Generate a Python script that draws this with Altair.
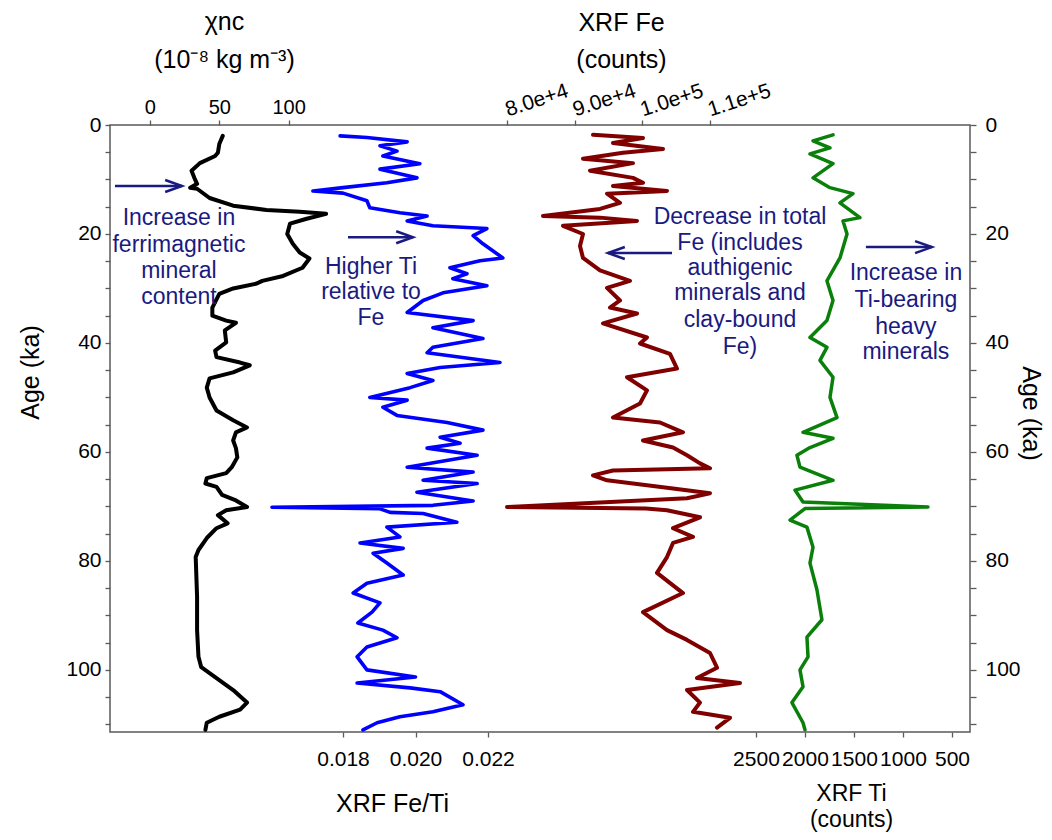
import altair as alt
import pandas as pd

FONT = "Liberation Sans"
NAVY = "#1a1a80"

# ---------------- data ----------------
chi_age = [2.0, 3.5, 5.1, 5.7, 7.0, 8.4, 9.7, 10.8, 11.5, 11.7, 13.4, 14.8, 15.6, 15.9, 16.3, 17.2, 18.1,
           20.0, 21.8, 23.4, 24.5, 26.2, 27.7, 28.6, 29.1, 30.0, 31.0, 33.5, 35.0, 35.9, 36.3, 37.7, 39.9,
           41.4, 42.6, 43.6, 44.1, 45.4, 46.5, 48.2, 50.0, 52.4, 54.2, 55.5, 56.4, 57.9, 59.3, 61.0, 62.8,
           63.9, 64.8, 65.8, 66.4, 67.9, 68.9, 70.1, 70.7, 71.6, 73.1, 74.0, 75.8, 78.0, 79.3, 86.6, 92.7,
           97.6, 99.5, 101.5, 103.7, 106.0, 107.3, 108.6, 109.7, 111.0]
chi_val = [52.5, 50, 49, 47, 36, 30, 32, 34, 29, 34, 43, 60, 84, 108, 127, 113, 101,
           99, 103, 108, 115, 110, 96, 81, 77, 60, 50, 45, 45, 55, 62, 54, 55,
           47, 48, 65, 72, 60, 43, 41, 43, 48, 60, 70, 62, 60, 62, 63, 59,
           55, 41, 40, 48, 52, 62, 70, 55, 49, 56, 48, 41, 35, 33, 34, 34,
           35, 37, 48, 60, 70, 65, 50, 41, 40]

feti_age = [2.0, 2.3, 3.1, 3.8, 4.8, 5.7, 7.1, 8.1, 9.7, 10.6, 11.5, 12.1, 12.5, 13.9, 15.2, 16.1, 16.7,
            17.6, 18.5, 19.0, 20.3, 21.8, 24.4, 24.9, 26.2, 27.3, 28.2, 29.5, 30.8, 32.2, 34.4, 35.9,
            37.2, 39.2, 40.8, 41.8, 43.6, 44.5, 45.6, 46.9, 48.2, 50.0, 50.5, 51.8, 53.3, 54.6, 56.0,
            57.3, 58.4, 59.3, 60.6, 62.8, 63.7, 65.2, 65.8, 67.4, 69.0, 69.8, 70.15, 70.4, 71.1, 71.3,
            72.9, 73.8, 75.6, 76.7, 77.7, 78.6, 80.4, 82.6, 84.1, 85.9, 87.7, 89.4, 91.4, 92.7, 94.1,
            95.8, 97.6, 100.0, 101.3, 102.4, 103.3, 104.0, 106.4, 107.7, 108.6, 109.7, 111.0]
feti_val = [0.01792, 0.01866, 0.01977, 0.01902, 0.01949, 0.0191, 0.02012, 0.01902, 0.02004, 0.01921,
            0.0180, 0.01717, 0.0180, 0.01866, 0.01874, 0.01957, 0.02032,
            0.01977, 0.02048, 0.02197, 0.02159, 0.02186, 0.02241, 0.02178, 0.02095, 0.02142, 0.02103,
            0.02197, 0.02076, 0.02021, 0.01977, 0.02159,
            0.02048, 0.02186, 0.02048, 0.02032, 0.02233, 0.02068, 0.01977, 0.02048, 0.01985, 0.01874,
            0.01977, 0.0191, 0.01949, 0.02087, 0.02186,
            0.02068, 0.02123, 0.02032, 0.0217, 0.01977, 0.02159, 0.02021, 0.0217, 0.02004, 0.02159,
            0.02048, 0.01604, 0.0190, 0.0193, 0.02021,
            0.02114, 0.01921, 0.01957, 0.01847, 0.01966, 0.01883, 0.01921, 0.01966, 0.01866, 0.01828,
            0.01902, 0.0188, 0.01841, 0.0191, 0.01949,
            0.01866, 0.01839, 0.01866, 0.0200, 0.01839, 0.01985, 0.02068, 0.02131, 0.02048, 0.01957,
            0.01894, 0.01855]

fe_age = [1.8, 2.4, 3.3, 4.4, 5.1, 6.2, 7.0, 8.4, 9.7, 10.6, 11.2, 12.1, 12.6, 14.3, 15.4, 16.7, 17.0,
          17.6, 18.5, 20.0, 22.2, 24.4, 26.7, 28.6, 29.9, 32.2, 33.5, 34.6, 36.4, 39.0, 40.1, 42.0, 44.7,
          46.3, 48.7, 51.1, 53.7, 54.6, 56.4, 57.9, 59.2, 60.6, 62.1, 63.0, 63.4, 64.3, 65.2, 66.7, 67.6,
          68.5, 70.1, 70.4, 70.7, 72.0, 74.0, 75.6, 76.7, 79.3, 82.2, 85.9, 89.4, 92.7, 94.5, 96.9, 99.6,
          101.5, 102.4, 103.7, 106.0, 107.7, 108.8, 110.6]
fe_val = [92667, 100074, 95630, 103037, 97111, 91185, 98593, 92222, 98593, 100074, 95630, 103630, 94741,
          96667, 93704, 85259, 93704,
          99185, 88222, 91185, 90741, 91185, 93704, 98148, 94741, 96667, 95185, 99185, 94148, 100667,
          99630, 104074, 105111,
          97704, 100667, 99630, 95630, 102593, 106000, 100074, 104519, 106593, 108519, 110000, 95630,
          92667, 94741, 104519, 110000,
          106593, 79926, 100500, 103630, 108519, 104519, 107481, 104519, 103630, 102148, 106000, 100074,
          103630, 106593, 110000, 111037,
          108074, 114444, 106593, 108519, 107481, 112963, 111037]

ti_age = [1.8, 2.9, 4.2, 5.3, 7.1, 9.7, 11.5, 12.6, 14.3, 17.0, 17.6, 20.0, 24.4, 28.6, 32.2, 35.9,
          39.0, 40.8, 43.2, 46.3, 50.0, 53.7, 56.4, 57.5, 59.2, 60.6, 62.8, 65.2, 67.0, 69.2, 70.1,
          70.4, 71.1, 72.5, 73.8, 77.5, 80.4, 85.3, 90.8, 94.0, 97.6, 100.0, 103.1, 106.0, 109.7, 111.0]
ti_val = [1714, 1918, 1745, 1949, 1714, 1918, 1745, 1510, 1643, 1439, 1612, 1571, 1643, 1776, 1714, 1776,
          1949, 1776, 1847, 1714, 1745, 1673, 2020, 1714, 1949, 2082, 2051, 1714, 2102, 2020, 745,
          2000, 2051, 2153, 1980, 1918, 1949, 1878, 1827, 1980, 1969, 2051, 2020, 2133, 2020, 2000]

# tick labels
chi_ticks = [0, 50, 100]
feti_ticks = [0.018, 0.020, 0.022]
fe_ticks = [80000, 90000, 100000, 110000]
ti_ticks = [2500, 2000, 1500, 1000, 500]
age_ticks = list(range(0, 115, 5))

# annotations: text lines (with ages of each line), arrow [tail, head, age]
chi_note = ["Increase in", "ferrimagnetic", "mineral", "content"]
chi_note_age = [17.1, 22.0, 26.8, 31.6]
chi_note_x = 20.9
chi_arrow = [-25.2, 23.1, 11.2]

feti_note = ["Higher Ti", "relative to", "Fe"]
feti_note_age = [26.1, 30.6, 35.4]
feti_note_x = 0.018772
feti_arrow = [0.018138, 0.019931, 20.6]

fe_note = ["Decrease in total", "Fe (includes", "authigenic", "minerals and", "clay-bound", "Fe)"]
fe_note_age = [16.9, 21.7, 26.2, 30.8, 35.8, 40.7]
fe_note_x = 114444
fe_arrow = [104370, 94889, 23.5]

ti_note = ["Increase in", "Ti-bearing", "heavy", "minerals"]
ti_note_age = [27.2, 32.1, 37.1, 41.7]
ti_note_x = 970
ti_arrow = [1378, 705, 22.4]

for a, b in [(chi_age, chi_val), (feti_age, feti_val), (fe_age, fe_val), (ti_age, ti_val)]:
    assert len(a) == len(b), (len(a), len(b))

# ---------------- scales ----------------
Y_DOMAIN = [0, 111.4]
chi_dom = [-28.78, 591.2]
feti_dom = [0.011572, 0.035297]
fe_dom = [21111, 148519]
ti_dom = [316, 9092]

RIGHT_HEAD = "M-1.4,-0.5L0,0L-1.4,0.5"
LEFT_HEAD = "M1.4,-0.5L0,0L1.4,0.5"


def xsc(dom, rev=False):
    if rev:
        return alt.Scale(domain=dom, reverse=True, nice=False, zero=False)
    return alt.Scale(domain=dom, nice=False, zero=False)


def yenc(axis=None):
    return alt.Y("age:Q", scale=alt.Scale(domain=Y_DOMAIN, reverse=True, nice=False, zero=False),
                 axis=axis)


def panel(ages, vals, color, sw, dom, rev, xaxis, yaxis, note, note_age, note_x, arrow, head):
    df = pd.DataFrame({"age": ages, "v": vals})
    line = alt.Chart(df).mark_line(color=color, strokeWidth=sw, strokeJoin="round",
                                   strokeCap="round").encode(
        x=alt.X("v:Q", scale=xsc(dom, rev), axis=xaxis),
        y=yenc(yaxis),
        order=alt.Order("age:Q"),
    )
    tdf = pd.DataFrame({"txt": note, "v": [note_x] * len(note), "age": note_age})
    text = alt.Chart(tdf).mark_text(font=FONT, fontSize=23, color=NAVY, align="center",
                                    baseline="middle").encode(
        x=alt.X("v:Q", scale=xsc(dom, rev), axis=None),
        y=yenc(),
        text="txt:N",
    )
    adf = pd.DataFrame({"v": [arrow[0]], "v2": [arrow[1]], "age": [arrow[2]]})
    shaft = alt.Chart(adf).mark_rule(color=NAVY, strokeWidth=2.5).encode(
        x=alt.X("v:Q", scale=xsc(dom, rev), axis=None), x2="v2:Q", y=yenc())
    tip = alt.Chart(adf).mark_point(shape=head, filled=False, size=576, color=NAVY,
                                    strokeWidth=2.5, opacity=1).encode(
        x=alt.X("v2:Q", scale=xsc(dom, rev), axis=None), y=yenc())
    return [line, shaft, tip, text]


common = dict(labelOverlap=False, labelFlush=False, grid=False, domain=False, tickSize=5)

chi_axis = alt.Axis(orient="top", values=chi_ticks, format="d", title=["χnc", "(10⁻⁸ kg m⁻³)"],
                    titleX=114, titleY=-96, titleAlign="center", titleBaseline="alphabetic",
                    titleLineHeight=38, labelFontSize=20, labelBaseline="alphabetic",
                    labelPadding=7, **common)
feti_axis = alt.Axis(orient="bottom", values=feti_ticks, format=".3f", title="XRF Fe/Ti",
                     titleX=282, titleY=79, titleAlign="center", titleBaseline="alphabetic",
                     labelBaseline="alphabetic", labelPadding=28, **common)
fe_axis = alt.Axis(orient="top", values=fe_ticks, format=".1e", title=["XRF Fe", "(counts)"],
                   titleX=511, titleY=-95, titleAlign="center", titleBaseline="alphabetic",
                   titleLineHeight=37, labelAngle=-18, labelAlign="left",
                   labelBaseline="alphabetic", labelPadding=4, **common)
ti_axis = alt.Axis(orient="bottom", values=ti_ticks, format="d", title=["XRF Ti", "(counts)"],
                   titleX=741, titleY=68, titleAlign="center", titleBaseline="alphabetic",
                   titleFontSize=23, titleLineHeight=26, labelBaseline="alphabetic",
                   labelPadding=28, **common)

lbl = "datum.value % 20 === 0 ? datum.label : ''"
left_axis = alt.Axis(orient="left", values=age_ticks, labelExpr=lbl, title="Age (ka)",
                     titleAngle=270, titleX=-80, titleY=247, titleAlign="center",
                     titleBaseline="middle", labelPadding=4, labelOverlap=False,
                     grid=False, domain=False, tickSize=5)
right_axis = alt.Axis(orient="right", values=age_ticks, labelExpr=lbl, title="Age (ka)",
                      titleAngle=90, titleX=60, titleY=288, titleAlign="center",
                      titleBaseline="middle", labelPadding=9, labelOverlap=False,
                      grid=False, domain=False, tickSize=6)

layers = []
layers += panel(chi_age, chi_val, "#000000", 4, chi_dom, False, chi_axis, left_axis,
                chi_note, chi_note_age, chi_note_x, chi_arrow, RIGHT_HEAD)
layers += panel(feti_age, feti_val, "#0000ff", 3.6, feti_dom, False, feti_axis, None,
                feti_note, feti_note_age, feti_note_x, feti_arrow, RIGHT_HEAD)
layers += panel(fe_age, fe_val, "#800000", 4, fe_dom, False, fe_axis, None,
                fe_note, fe_note_age, fe_note_x, fe_arrow, LEFT_HEAD)
layers += panel(ti_age, ti_val, "#0a800a", 3.5, ti_dom, True, ti_axis, right_axis,
                ti_note, ti_note_age, ti_note_x, ti_arrow, RIGHT_HEAD)

chart = (
    alt.layer(*layers)
    .resolve_scale(x="independent", y="independent")
    .properties(width=860, height=607,
                padding={"left": 102, "top": 117, "right": 74, "bottom": 100},
                autosize=alt.AutoSizeParams(type="none"))
    .configure_view(stroke="#5a5a5a", strokeWidth=1.5)
    .configure_axis(tickColor="#5a5a5a", tickWidth=1.3, labelFont=FONT, titleFont=FONT,
                    labelColor="black", titleColor="black", titleFontWeight="normal",
                    labelFontSize=21, titleFontSize=25)
)

chart.save("out.html", embed_options={"renderer": "svg", "actions": False})
